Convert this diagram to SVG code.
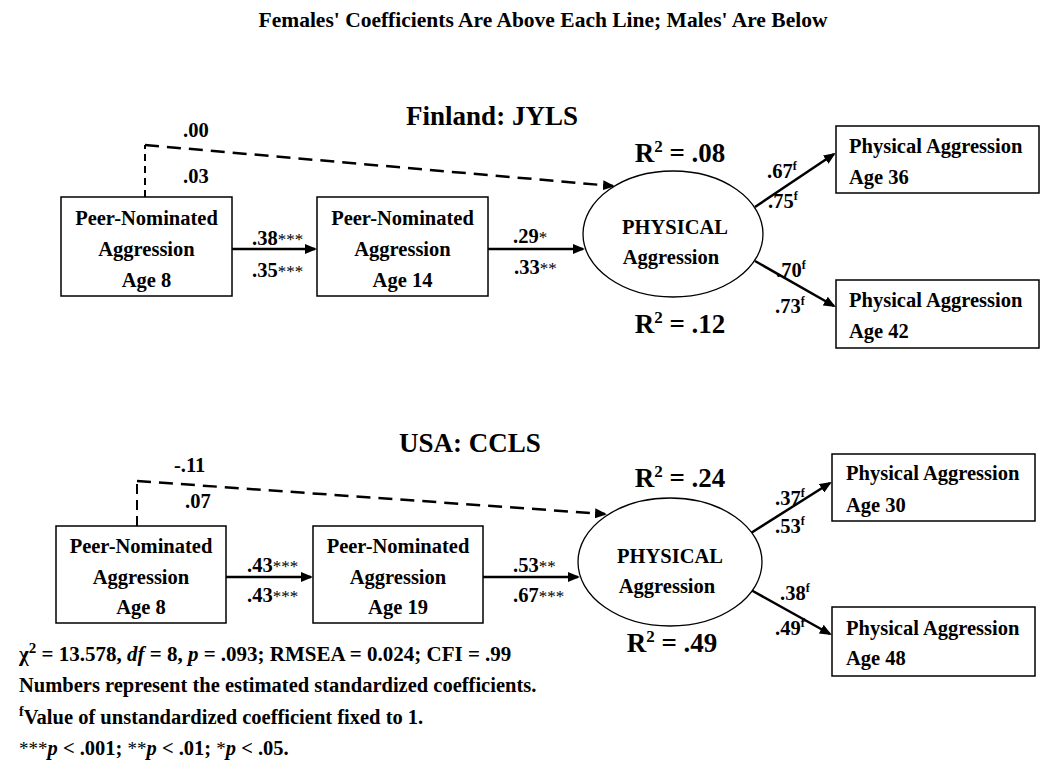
<svg xmlns="http://www.w3.org/2000/svg" width="1050" height="770" viewBox="0 0 1050 770">
<defs>
<marker id="ah" viewBox="0 0 12 10" refX="10" refY="5" markerWidth="12" markerHeight="10" markerUnits="userSpaceOnUse" orient="auto">
<path d="M0,0 L12,5 L0,10 z" fill="#000"/>
</marker>
<style>
text{font-family:"Liberation Serif","Times New Roman",serif;font-weight:bold;fill:#000;font-size:20.5px}
.big{font-size:27px}
.c{text-anchor:middle}
.ast{font-size:17px;font-weight:normal}
.sup{font-size:12px}
.box{fill:#fff;stroke:#000;stroke-width:1.5}
.ell{fill:#fff;stroke:#000;stroke-width:1.3}
.arr{fill:none;stroke:#000;stroke-width:2.5;marker-end:url(#ah)}
.dash{fill:none;stroke:#000;stroke-width:2.5;stroke-dasharray:14 8;marker-end:url(#ah)}
.dashv{fill:none;stroke:#000;stroke-width:2;stroke-dasharray:7 5}
</style>
</defs>
<rect width="1050" height="770" fill="#fff"/>

<text class="c" x="543" y="27" style="font-size:21.5px">Females' Coefficients Are Above Each Line; Males' Are Below</text>

<g id="connectors">
<!-- top panel -->
<path class="dashv" d="M145,197 V145"/>
<path class="dash" d="M145,145 L613,186"/>
<path class="arr" d="M232,249 H315"/>
<path class="arr" d="M488,249 H583"/>
<path class="arr" d="M755,207 L834,154"/>
<path class="arr" d="M755,261 L834,306"/>
<!-- bottom panel -->
<path class="dashv" d="M137,526 V481" style="stroke-dasharray:10 6"/>
<path class="dash" d="M137,481 L605,514"/>
<path class="arr" d="M226,577 H311"/>
<path class="arr" d="M483,577 H578"/>
<path class="arr" d="M751,533 L830,483"/>
<path class="arr" d="M751,590 L830,634"/>
</g>

<!-- top panel nodes -->
<g id="fin-peer8">
<rect class="box" x="61" y="197" width="171" height="99"/>
<text class="c" x="146.5" y="225">Peer-Nominated</text>
<text class="c" x="146.5" y="256">Aggression</text>
<text class="c" x="146.5" y="287">Age 8</text>
</g>
<g id="fin-peer14">
<rect class="box" x="317" y="197" width="171" height="99"/>
<text class="c" x="402.5" y="225">Peer-Nominated</text>
<text class="c" x="402.5" y="256">Aggression</text>
<text class="c" x="402.5" y="287">Age 14</text>
</g>
<g id="fin-physical">
<ellipse class="ell" cx="673" cy="234" rx="90" ry="63"/>
<text class="c" x="675" y="234">PHYSICAL</text>
<text class="c" x="671" y="264">Aggression</text>
</g>
<g id="fin-age36">
<rect class="box" x="836" y="126" width="203" height="67"/>
<text x="849" y="153">Physical Aggression</text>
<text x="849" y="184">Age 36</text>
</g>
<g id="fin-age42">
<rect class="box" x="836" y="280" width="203" height="68"/>
<text x="849" y="307">Physical Aggression</text>
<text x="849" y="338">Age 42</text>
</g>

<g id="fin-labels">
<text class="big c" x="492" y="125">Finland: JYLS</text>
<text x="183" y="137">.00</text>
<text x="183" y="183">.03</text>
<text x="252" y="245">.38<tspan class="ast">***</tspan></text>
<text x="252" y="277">.35<tspan class="ast">***</tspan></text>
<text x="513" y="243">.29<tspan class="ast">*</tspan></text>
<text x="514" y="274">.33<tspan class="ast">**</tspan></text>
<text class="big c" x="680" y="162">R<tspan font-size="17" dy="-10">2</tspan><tspan dy="10"> = .08</tspan></text>
<text class="big c" x="680" y="333">R<tspan font-size="17" dy="-10">2</tspan><tspan dy="10"> = .12</tspan></text>
<text x="767" y="178">.67<tspan class="sup" dy="-8">f</tspan></text>
<text x="768" y="208">.75<tspan class="sup" dy="-8">f</tspan></text>
<text x="776" y="277">.70<tspan class="sup" dy="-8">f</tspan></text>
<text x="775" y="313">.73<tspan class="sup" dy="-8">f</tspan></text>
</g>

<!-- bottom panel nodes -->
<g id="usa-peer8">
<rect class="box" x="56" y="526" width="170" height="97"/>
<text class="c" x="141" y="553">Peer-Nominated</text>
<text class="c" x="141" y="584">Aggression</text>
<text class="c" x="141" y="614">Age 8</text>
</g>
<g id="usa-peer19">
<rect class="box" x="313" y="526" width="170" height="97"/>
<text class="c" x="398" y="553">Peer-Nominated</text>
<text class="c" x="398" y="584">Aggression</text>
<text class="c" x="398" y="614">Age 19</text>
</g>
<g id="usa-physical">
<ellipse class="ell" cx="670" cy="562" rx="92" ry="64"/>
<text class="c" x="670" y="563">PHYSICAL</text>
<text class="c" x="667" y="593">Aggression</text>
</g>
<g id="usa-age30">
<rect class="box" x="832" y="454" width="203" height="67"/>
<text x="846" y="480">Physical Aggression</text>
<text x="846" y="512">Age 30</text>
</g>
<g id="usa-age48">
<rect class="box" x="832" y="607" width="203" height="69"/>
<text x="846" y="635">Physical Aggression</text>
<text x="846" y="665">Age 48</text>
</g>

<g id="usa-labels">
<text class="big c" x="470" y="452">USA: CCLS</text>
<text x="174" y="472">-.11</text>
<text x="185" y="508">.07</text>
<text x="247" y="572">.43<tspan class="ast">***</tspan></text>
<text x="247" y="602">.43<tspan class="ast">***</tspan></text>
<text x="513" y="572">.53<tspan class="ast">**</tspan></text>
<text x="513" y="602">.67<tspan class="ast">***</tspan></text>
<text class="big c" x="680" y="487">R<tspan font-size="17" dy="-10">2</tspan><tspan dy="10"> = .24</tspan></text>
<text class="big c" x="672" y="652">R<tspan font-size="17" dy="-10">2</tspan><tspan dy="10"> = .49</tspan></text>
<text x="775" y="505">.37<tspan class="sup" dy="-8">f</tspan></text>
<text x="775" y="533">.53<tspan class="sup" dy="-8">f</tspan></text>
<text x="780" y="600">.38<tspan class="sup" dy="-8">f</tspan></text>
<text x="775" y="635">.49<tspan class="sup" dy="-8">f</tspan></text>
</g>

<g id="footnotes">
<text x="19" y="661" style="font-size:21px">χ<tspan font-size="15" dy="-8">2</tspan><tspan dy="8"> = 13.578, </tspan><tspan font-style="italic">df</tspan> = 8, <tspan font-style="italic">p</tspan> = .093; RMSEA = 0.024; CFI = .99</text>
<text x="19" y="692">Numbers represent the estimated standardized coefficients.</text>
<text x="19" y="724"><tspan font-size="14" dy="-8">f</tspan><tspan dy="8">Value of unstandardized coefficient fixed to 1.</tspan></text>
<text x="19" y="755"><tspan font-size="19" font-weight="normal">***</tspan><tspan font-style="italic">p</tspan> &lt; .001; <tspan font-size="19" font-weight="normal">**</tspan><tspan font-style="italic">p</tspan> &lt; .01; <tspan font-size="19" font-weight="normal">*</tspan><tspan font-style="italic">p</tspan> &lt; .05.</text>
</g>
</svg>
